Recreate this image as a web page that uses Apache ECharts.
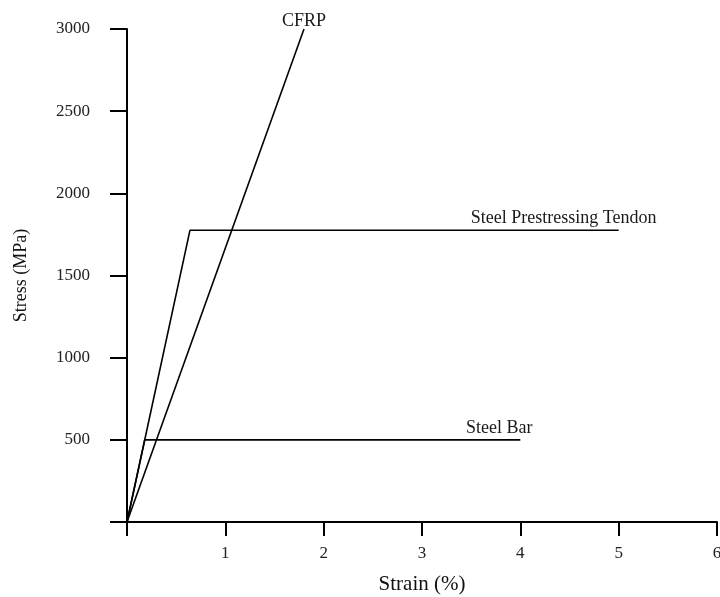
<!DOCTYPE html>
<html>
<head>
<meta charset="utf-8">
<script src="https://cdn.jsdelivr.net/npm/echarts@6/dist/echarts.min.js"></script>
<style>
  html, body { margin: 0; padding: 0; background: #fff; }
  #chart { width: 720px; height: 597px; }
</style>
</head>
<body>
<div id="chart"></div>
<script>
// Stress-strain curves (strain in %, stress in MPa)
const cfrpStrain = [0, 1.8];
const cfrpStress = [0, 3000];
const tendonStrain = [0, 0.64, 5.0];
const tendonStress = [0, 1775, 1775];
const barStrain = [0, 0.18, 4.0];
const barStress = [0, 500, 500];

const xTicks = [0, 1, 2, 3, 4, 5, 6];
const yTicks = [0, 500, 1000, 1500, 2000, 2500, 3000];

const seriesNames = ['CFRP', 'Steel Prestressing Tendon', 'Steel Bar'];

const FONT = '"Liberation Serif", "DejaVu Serif", serif';

function pairs(xs, ys, name, offset) {
  return xs.map((x, i) => {
    const item = { value: [x, ys[i]] };
    if (i === xs.length - 1) {
      item.label = {
        show: true,
        position: 'top',
        formatter: name,
        offset: offset,
        fontFamily: FONT,
        fontSize: 18,
        color: '#1a1a1a'
      };
    }
    return item;
  });
}

function lineSeries(name, data) {
  return {
    name: name,
    type: 'line',
    data: data,
    symbol: 'circle',
    symbolSize: 0,
    showSymbol: true,
    silent: true,
    animation: false,
    lineStyle: { color: '#000', width: 1.6 },
    itemStyle: { color: '#000' }
  };
}

const chart = echarts.init(document.getElementById('chart'));
chart.setOption({
  backgroundColor: '#fff',
  animation: false,
  grid: { left: 127, right: 3, top: 29, bottom: 75, outerBoundsMode: 'none', containLabel: false },
  xAxis: {
    type: 'value',
    min: xTicks[0],
    max: xTicks[xTicks.length - 1],
    interval: 1,
    name: 'Strain (%)',
    nameLocation: 'middle',
    nameGap: 52,
    nameTextStyle: { fontFamily: FONT, fontSize: 21, color: '#111' },
    axisLine: { show: true, lineStyle: { color: '#000', width: 2 } },
    axisTick: { show: true, length: 14, lineStyle: { color: '#000', width: 2 } },
    axisLabel: {
      margin: 23,
      fontFamily: FONT,
      fontSize: 17,
      color: '#222',
      formatter: v => (v === 0 ? '' : String(v))
    },
    splitLine: { show: false }
  },
  yAxis: {
    type: 'value',
    min: yTicks[0],
    max: yTicks[yTicks.length - 1],
    interval: 500,
    name: 'Stress (MPa)',
    nameLocation: 'middle',
    nameGap: 97,
    nameTextStyle: { fontFamily: FONT, fontSize: 18, color: '#111' },
    axisLine: { show: true, lineStyle: { color: '#000', width: 2 } },
    axisTick: { show: true, length: 17, lineStyle: { color: '#000', width: 2 } },
    axisLabel: {
      margin: 37,
      fontFamily: FONT,
      fontSize: 17,
      color: '#222',
      formatter: v => (v === 0 ? '' : String(v))
    },
    splitLine: { show: false }
  },
  series: [
    lineSeries(seriesNames[0], pairs(cfrpStrain, cfrpStress, seriesNames[0], [0, 6])),
    lineSeries(seriesNames[1], pairs(tendonStrain, tendonStress, seriesNames[1], [-55, 2])),
    lineSeries(seriesNames[2], pairs(barStrain, barStress, seriesNames[2], [-21, 2]))
  ]
});
</script>
</body>
</html>
